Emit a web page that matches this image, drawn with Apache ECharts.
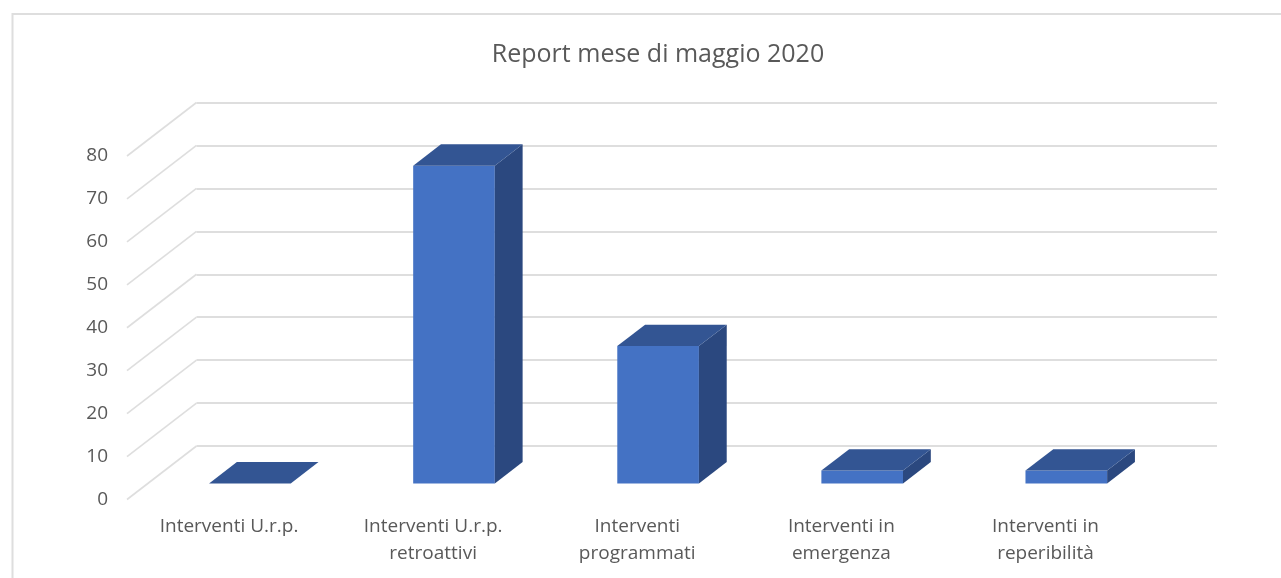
<!DOCTYPE html>
<html lang="it">
<head>
    <meta charset="UTF-8">
    <title>Report mese di maggio 2020</title>
    <script src="https://cdn.jsdelivr.net/npm/echarts@6/dist/echarts.min.js"></script>
    <style>
        html, body { margin: 0; padding: 0; background: #fff; }
        #chart { width: 1281px; height: 578px; }
    </style>
</head>
<body>
    <div id="chart"></div>
    <script>
        // dati
        const categories = ['Interventi U.r.p.', 'Interventi U.r.p.\nretroattivi', 'Interventi\nprogrammati', 'Interventi in\nemergenza', 'Interventi in\nreperibilità']
        const values = [0, 74, 32, 3, 3]
        const ticks = [0, 10, 20, 30, 40, 50, 60, 70, 80]

        // finto 3D: spostamento tra piano frontale e parete di fondo
        const wallDx = 69.5
        const wallDy = 53.5
        const barFront = 0.7
        const barBack = 0.3

        const fontName = '"Open Sans", "Noto Sans", sans-serif'
        const textColor = '#595959'
        const lineColor = '#DEDEDE'

        const myChart = echarts.init(document.getElementById('chart'))

        function shift(p, depth) {
            return [p[0] - wallDx * depth, p[1] + wallDy * depth]
        }

        // linee oblique della parete laterale
        function renderSideWall(params, api) {
            const p = api.coord([0, api.value(1)])
            const halfBand = api.size([1, 0])[0] / 2
            const back = [p[0] - halfBand, p[1]]
            const front = shift(back, 1)
            return {
                type: 'line',
                shape: { x1: back[0], y1: back[1], x2: front[0], y2: front[1] },
                style: { stroke: lineColor, lineWidth: 1.6 }
            }
        }

        // barra: faccia frontale, superiore e laterale
        function renderBar(params, api) {
            const top = api.coord([api.value(0), api.value(1)])
            const base = api.coord([api.value(0), 0])
            const half = api.size([1, 0])[0] * 0.2
            const h = base[1] - top[1]
            const tl = shift([top[0] - half, top[1]], barFront)
            const tr = shift([top[0] + half, top[1]], barFront)
            const tlb = shift([top[0] - half, top[1]], barBack)
            const trb = shift([top[0] + half, top[1]], barBack)
            const children = []
            if (h > 0) {
                children.push({
                    type: 'polygon',
                    shape: { points: [tl, tr, [tr[0], tr[1] + h], [tl[0], tl[1] + h]] },
                    style: { fill: '#4472C4' }
                })
                children.push({
                    type: 'polygon',
                    shape: { points: [tr, trb, [trb[0], trb[1] + h], [tr[0], tr[1] + h]] },
                    style: { fill: '#2B487F' }
                })
            }
            children.push({
                type: 'polygon',
                shape: { points: [tl, tlb, trb, tr] },
                style: { fill: '#335593' }
            })
            return { type: 'group', children: children }
        }

        myChart.setOption({
            animation: false,
            backgroundColor: '#fff',
            title: {
                text: 'Report mese di maggio 2020',
                left: 653,
                top: 37,
                textAlign: 'center',
                textStyle: { color: textColor, fontFamily: fontName, fontSize: 25, fontWeight: 'normal' }
            },
            // cornice del grafico, il lato destro esce dalla pagina
            graphic: [{
                type: 'rect',
                silent: true,
                shape: { x: 12.5, y: 14, width: 1300, height: 600 },
                style: { fill: 'none', stroke: lineColor, lineWidth: 2 }
            }],
            grid: [
                // parete di fondo
                { left: 196.5, top: 102.5, width: 1020.5, height: 343.5 },
                // piano frontale, porta solo le etichette
                { left: 127, top: 156, width: 1020.5, height: 343.5 }
            ],
            xAxis: [
                {
                    type: 'category', gridIndex: 0, data: categories,
                    axisLine: { show: false }, axisTick: { show: false }, axisLabel: { show: false }
                },
                {
                    type: 'category', gridIndex: 1, data: categories,
                    axisLine: { show: false }, axisTick: { show: false },
                    axisLabel: {
                        interval: 0, margin: 14, lineHeight: 27,
                        color: textColor, fontFamily: fontName, fontSize: 19
                    }
                }
            ],
            yAxis: [
                {
                    type: 'value', gridIndex: 0, min: 0, max: 80, interval: 10,
                    axisLine: { show: false }, axisTick: { show: false }, axisLabel: { show: false },
                    splitLine: { lineStyle: { color: lineColor, width: 2 } }
                },
                {
                    type: 'value', gridIndex: 1, min: 0, max: 80, interval: 10,
                    axisLine: { show: false }, axisTick: { show: false }, splitLine: { show: false },
                    axisLabel: { margin: 19, color: textColor, fontFamily: fontName, fontSize: 19 }
                }
            ],
            series: [
                {
                    type: 'custom', xAxisIndex: 0, yAxisIndex: 0, silent: true, z: 1,
                    renderItem: renderSideWall,
                    encode: { x: 0, y: 1 },
                    data: ticks.map(t => [0, t])
                },
                {
                    type: 'custom', xAxisIndex: 0, yAxisIndex: 0, z: 3,
                    renderItem: renderBar,
                    encode: { x: 0, y: 1 },
                    data: values.map((v, i) => [i, v])
                }
            ]
        })
    </script>
</body>
</html>
